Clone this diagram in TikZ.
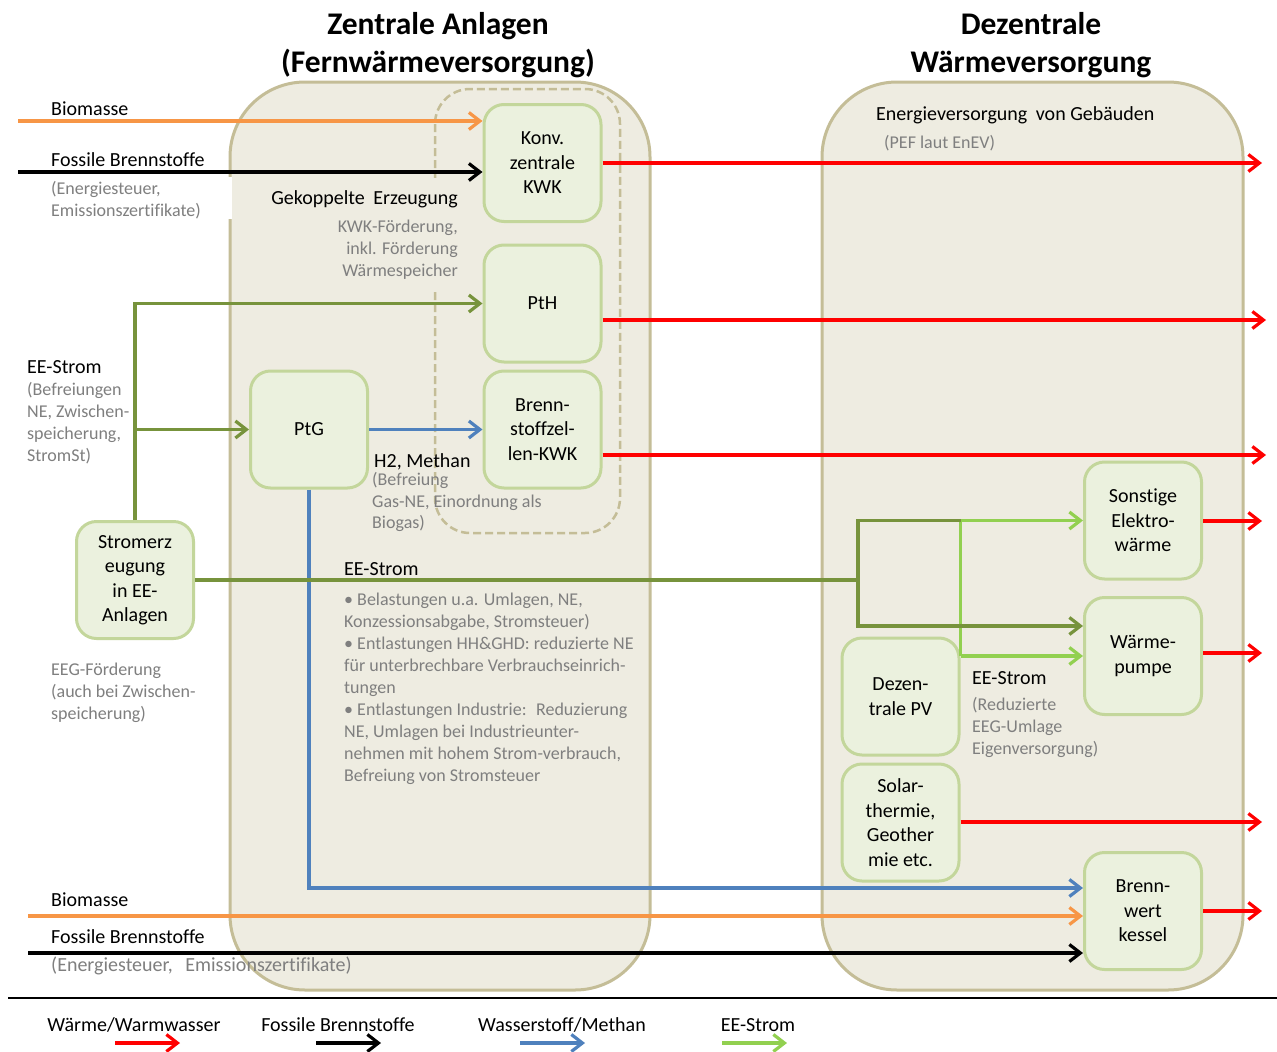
\documentclass[tikz,border=0pt]{standalone}
\usepackage{fontspec}
\setmainfont{Carlito}[Ligatures=NoCommon]
\usetikzlibrary{arrows.meta}

\definecolor{panelfill}{HTML}{EEECE1}
\definecolor{panelline}{HTML}{C4BD97}
\definecolor{boxfill}{HTML}{EBF1DE}
\definecolor{boxline}{HTML}{C3D69B}
\definecolor{heatred}{HTML}{FF0000}
\definecolor{gasblue}{HTML}{4F81BD}
\definecolor{bioorange}{HTML}{F79646}
\definecolor{eedark}{HTML}{77933C}
\definecolor{eelight}{HTML}{92D050}
\definecolor{notegray}{HTML}{7F7F7F}

\tikzset{
  panel/.style={draw=panelline, fill=panelfill, line width=3pt, rounded corners=75pt},
  unit/.style={draw=boxline, fill=boxfill, line width=3pt, rounded corners=20pt,
    minimum width=117pt, minimum height=117pt, inner sep=0pt, align=center,
    font=\fontsize{20}{24.5}\selectfont},
  flow/.style={line width=3.2pt, -{Straight Barb[length=11pt,width=17pt]}},
  heat/.style={flow, draw=heatred},
  fos/.style={flow, draw=black},
  bio/.style={flow, draw=bioorange},
  gas/.style={flow, draw=gasblue},
  eed/.style={flow, draw=eedark},
  eedline/.style={line width=3.2pt, draw=eedark},
  eel/.style={flow, draw=eelight},
  lbltext/.style={inner sep=0pt, font=\fontsize{20}{24}\selectfont, text=black},
  note/.style={inner sep=0pt, font=\fontsize{18}{22}\selectfont, text=notegray, align=left},
  title/.style={font=\bfseries\fontsize{31.5}{38.5}\selectfont, align=center, inner sep=0pt}
}

\begin{document}
\begin{tikzpicture}[x=1pt,y=-1pt]
\useasboundingbox (0,0) rectangle (1277,1052);
\fill[white] (0,0) rectangle (1277,1052);

% the two supply areas and the coupled-generation group
\draw[panel] (230,82) rectangle (650,990);
\draw[panel] (822,82) rectangle (1243,990);
\draw[panelline, line width=2.5pt, dash pattern=on 8pt off 4pt, rounded corners=35pt]
  (435,89) rectangle (620,533);
% backgrounds behind two text blocks
\fill[white] (46,177) rectangle (232,219);
\fill[panelfill] (330,178) rectangle (462,290);

% headings
\node[title] (t1) at (438,45) {Zentrale Anlagen\\(Fernwärmeversorgung)};
\node[title] (t2) at (1031,45) {Dezentrale\\Wärmeversorgung};

% plants
\node[unit] (kwk) at (542.5,163) {Konv.\\zentrale\\KWK};
\node[unit] (pth) at (542.5,303.5) {PtH};
\node[unit] (bsz) at (542.5,429.5) {Brenn-\\stoffzel-\\len-KWK};
\node[unit] (ptg) at (309,429.5) {PtG};
\node[unit] (ee) at (135,580) {Stromerz\\eugung\\in EE-\\Anlagen};
\node[unit] (sonst) at (1143,520.5) {Sonstige\\Elektro-\\wärme};
\node[unit] (wp) at (1143,656) {Wärme-\\pumpe};
\node[unit] (pv) at (900.5,696.5) {Dezen-\\trale PV};
\node[unit] (solar) at (900.5,822.5) {Solar-\\thermie,\\Geother\\mie etc.};
\node[unit] (bw) at (1143,911) {Brenn-\\wert\\kessel};

% fuel inputs
\coordinate (bioA) at (18,121);
\coordinate (fosA) at (18,172);
\draw[bio] (bioA) -- (bioA -| kwk.west);
\draw[fos] (fosA) -- (fosA -| kwk.west);
\coordinate (bioB) at (28,916);
\coordinate (fosB) at (28,953);
\draw[bio] (bioB) -- (bioB -| bw.west);
\draw[fos] (fosB) -- (fosB -| bw.west);

% heat outputs
\coordinate (h1) at (1262,163);
\coordinate (h2) at (1266,320);
\coordinate (h3) at (1266,455);
\coordinate (h4) at (1262,521);
\coordinate (h5) at (1262,653);
\coordinate (h6) at (1262,822);
\coordinate (h7) at (1262,911);
\draw[heat] (kwk.east) -- (h1);
\draw[heat] (h2 -| pth.east) -- (h2);
\draw[heat] (h3 -| bsz.east) -- (h3);
\draw[heat] (h4 -| sonst.east) -- (h4);
\draw[heat] (h5 -| wp.east) -- (h5);
\draw[heat] (h6 -| solar.east) -- (h6);
\draw[heat] (h7 -| bw.east) -- (h7);

% renewable electricity to central plants
\coordinate (eeTop) at (ee.north |- pth.west);
\coordinate (eeMid) at (ee.north |- ptg.west);
\draw[eed] (ee.north) -- (eeTop) -- (pth.west);
\draw[eed] (eeMid) -- (ptg.west);

% hydrogen / methane
\draw[gas] (ptg.east) -- (bsz.west);
\coordinate (gasBend) at (ptg.south |- 0,888);
\draw[gas] (ptg.south) -- (gasBend) -- (gasBend -| bw.west);

% local PV electricity
\coordinate (pvOut) at (pv.east |- 0,656);
\draw[eel] (pvOut) -- (pvOut -| wp.west);
\draw[eel] (pvOut) -- (pvOut |- sonst.west) -- (sonst.west);

% grid renewable electricity to decentral heat
\coordinate (jcol) at (858,0);
\draw[eedline] (ee.east) -- (ee.east -| jcol);
\draw[eed] (pvOut |- sonst.west) -- (jcol |- sonst.west) -- (jcol |- 0,626) -- (wp.west |- 0,626);

% labels
\node[lbltext, anchor=west] (bioT) at (51,109) {Biomasse};
\node[lbltext, anchor=west] (fosT) at (51,160) {Fossile Brennstoffe};
\node[note, anchor=north west] (fosN) at (51,181.5) {(Energiesteuer,\\Emissionszertifikate)};
\node[lbltext, anchor=east] (gekT) at (458,199) {Gekoppelte\hspace{4pt} Erzeugung};
\node[note, anchor=north east, align=right] (gekN) at (458,219.5) {KWK-Förderung,\\inkl. Förderung\\Wärmespeicher};
\node[lbltext, anchor=west] (eeT) at (27,367) {EE-Strom};
\node[note, anchor=north west] (eeN) at (27,382.5) {(Befreiungen\\NE, Zwischen-\\speicherung,\\StromSt)};
\node[lbltext, anchor=west] (h2T) at (374,462) {H2, Methan};
\node[note, anchor=north west, font=\fontsize{18}{21.5}\selectfont] (h2N) at (372,472.5) {(Befreiung\\Gas-NE, Einordnung als\\Biogas)};
\node[lbltext, anchor=west] (ee2T) at (344,569) {EE-Strom};
\node[note, anchor=north west] (ee2N) at (344,592.5) {• Belastungen u.a. Umlagen, NE,\\Konzessionsabgabe, Stromsteuer)\\• Entlastungen HH\&GHD: reduzierte NE\\für unterbrechbare Verbrauchseinrich-\\tungen\\• Entlastungen Industrie: \ Reduzierung\\NE, Umlagen bei Industrieunter-\\nehmen mit hohem Strom-verbrauch,\\Befreiung von Stromsteuer};
\node[note, anchor=north west] (eegN) at (51,662.5) {EEG-Förderung\\(auch bei Zwischen-\\speicherung)};
\node[lbltext, anchor=west] (gebT) at (876,115) {Energieversorgung\hspace{4pt} von Gebäuden};
\node[note, anchor=west] (pefN) at (884,143) {(PEF laut EnEV)};
\node[lbltext, anchor=west] (ee3T) at (972,678) {EE-Strom};
\node[note, anchor=north west] (ee3N) at (972,697.5) {(Reduzierte\\EEG-Umlage\\Eigenversorgung)};
\node[lbltext, anchor=west] (bioT2) at (51,900) {Biomasse};
\node[lbltext, anchor=west] (fosT2) at (51,937) {Fossile Brennstoffe};
\node[note, anchor=west, font=\fontsize{20}{24}\selectfont] (fosN2) at (51,966) {(Energiesteuer,\hspace{8pt} Emissionszertifikate)};

% legend
\coordinate (sepL) at (8,998);
\coordinate (sepR) at (1277,998);
\draw[line width=1.5pt] (sepL) -- (sepR);
\node[lbltext] (lgH) at (134,1025) {Wärme/Warmwasser};
\node[lbltext] (lgF) at (338,1025) {Fossile Brennstoffe};
\node[lbltext] (lgG) at (562,1025) {Wasserstoff/Methan};
\node[lbltext] (lgE) at (758,1025) {EE-Strom};
\coordinate (lgH1) at (115,1043); \coordinate (lgH2) at (180,1043);
\coordinate (lgF1) at (316,1043); \coordinate (lgF2) at (381,1043);
\coordinate (lgG1) at (520,1043); \coordinate (lgG2) at (585,1043);
\coordinate (lgE1) at (722,1043); \coordinate (lgE2) at (787,1043);
\draw[heat] (lgH1) -- (lgH2);
\draw[fos] (lgF1) -- (lgF2);
\draw[gas] (lgG1) -- (lgG2);
\draw[eel] (lgE1) -- (lgE2);
\end{tikzpicture}
\end{document}
